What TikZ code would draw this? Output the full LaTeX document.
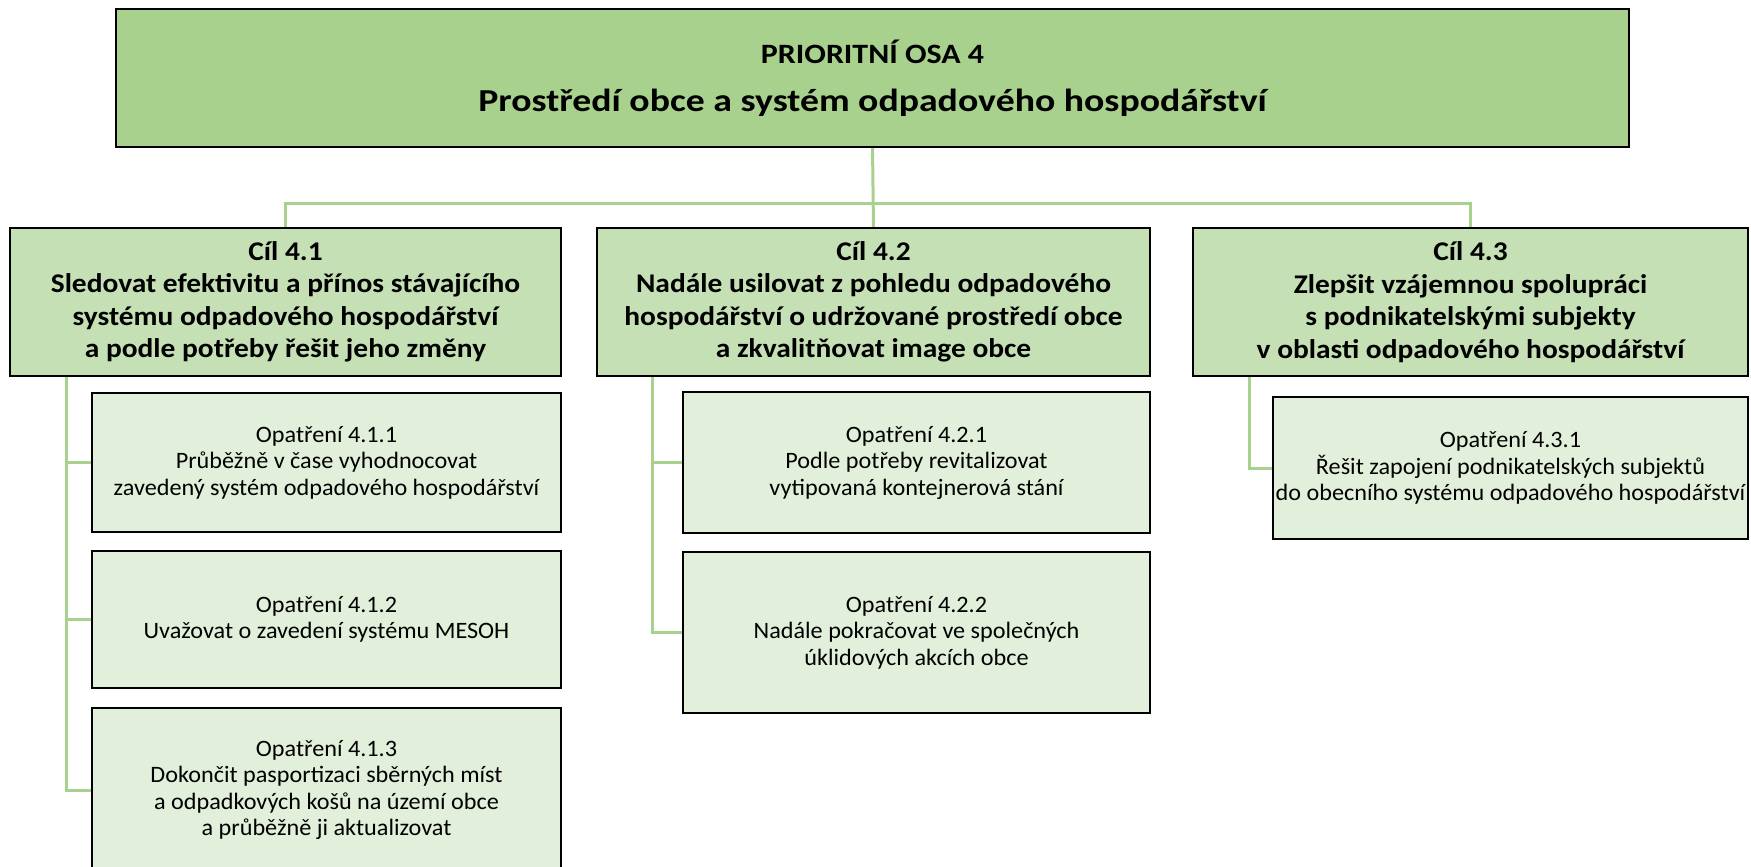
\documentclass[tikz,border=0pt]{standalone}
\usepackage{fontspec}
\setmainfont{Carlito}
\newfontfamily\fmain[FakeStretch=1.18]{Carlito}
\newfontfamily\fprio[FakeStretch=1.14]{Carlito}
\newfontfamily\fcil[FakeStretch=1.09]{Carlito}
\newfontfamily\fop[FakeStretch=1.03]{Carlito}
\usetikzlibrary{backgrounds}
\definecolor{topfill}{HTML}{A9D18E}
\definecolor{cilfill}{HTML}{C5E0B4}
\definecolor{opfill}{HTML}{E2EFDA}
\definecolor{connc}{HTML}{A9D18E}
\begin{document}
\begin{tikzpicture}[x=1pt,y=-1pt,
  box/.style={draw=black,line width=2.5pt,inner sep=0pt,outer sep=0pt,align=center},
  topbox/.style={box,fill=topfill},
  cilbox/.style={box,fill=cilfill,font=\fcil\fontsize{27}{32.5}\selectfont\bfseries},
  opbox/.style={box,fill=opfill,font=\fop\fontsize{23.5}{26.5}\selectfont},
  conn/.style={draw=connc,line width=3pt}]
\useasboundingbox (0,0) rectangle (1751,867);
\node[topbox,minimum width=1513pt,minimum height=138pt] (top) at (872.5,78) {};
\node[font=\fprio\fontsize{28}{32}\selectfont\bfseries] (topa) at (872.5,52) {PRIORITNÍ OSA 4};
\node[font=\fmain\fontsize{32}{38}\selectfont\bfseries] (topb) at (872.5,103) {Prostředí obce a systém odpadového hospodářství};
\node[cilbox,minimum width=551pt,minimum height=148pt] (cil1) at (285.5,302) {Cíl 4.1\\Sledovat efektivitu a přínos stávajícího\\systému odpadového hospodářství\\a podle potřeby řešit jeho změny};
\node[cilbox,minimum width=553pt,minimum height=148pt] (cil2) at (873.5,302) {Cíl 4.2\\Nadále usilovat z pohledu odpadového\\hospodářství o udržované prostředí obce\\a zkvalitňovat image obce};
\node[cilbox,minimum width=555pt,minimum height=148pt] (cil3) at (1470.5,302) {Cíl 4.3\\Zlepšit vzájemnou spolupráci\\s podnikatelskými subjekty\\v oblasti odpadového hospodářství};
\node[opbox,minimum width=469pt,minimum height=139pt] (o411) at (326.5,462.5) {Opatření 4.1.1\\Průběžně v čase vyhodnocovat\\zavedený systém odpadového hospodářství};
\node[opbox,minimum width=469pt,minimum height=137pt] (o412) at (326.5,619.5) {Opatření 4.1.2\\Uvažovat o zavedení systému MESOH};
\node[opbox,minimum width=469pt,minimum height=164pt] (o413) at (326.5,790) {Opatření 4.1.3\\Dokončit pasportizaci sběrných míst\\a odpadkových košů na území obce\\a průběžně ji aktualizovat};
\node[opbox,minimum width=467pt,minimum height=141pt] (o421) at (916.5,462.5) {Opatření 4.2.1\\Podle potřeby revitalizovat\\vytipovaná kontejnerová stání};
\node[opbox,minimum width=467pt,minimum height=161pt] (o422) at (916.5,632.5) {Opatření 4.2.2\\Nadále pokračovat ve společných\\úklidových akcích obce};
\node[opbox,minimum width=475pt,minimum height=142pt] (o431) at (1510.5,468) {Opatření 4.3.1\\Řešit zapojení podnikatelských subjektů\\do obecního systému odpadového hospodářství};
\begin{pgfonlayer}{background}
\draw[conn] (top.south) -- (cil2.north);
\draw[conn] (cil1.north) -- ++(0,-25) -| (cil3.north);
\coordinate (v1) at ([xshift=56pt]cil1.south west);
\coordinate (v2) at ([xshift=55pt]cil2.south west);
\coordinate (v3) at ([xshift=56pt]cil3.south west);
\draw[conn] (v1) |- (o413.west);
\draw[conn] (v1 |- o411.west) -- (o411.west);
\draw[conn] (v1 |- o412.west) -- (o412.west);
\draw[conn] (v2) |- (o422.west);
\draw[conn] (v2 |- o421.west) -- (o421.west);
\draw[conn] (v3) |- (o431.west);
\end{pgfonlayer}
\end{tikzpicture}
\end{document}
